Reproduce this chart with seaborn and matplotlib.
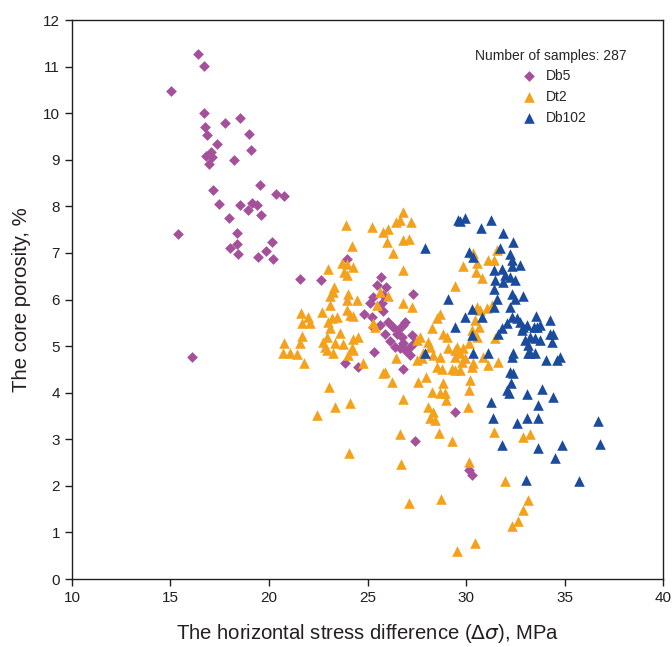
import pandas as pd
import matplotlib
matplotlib.use("Agg")
import matplotlib.pyplot as plt
import seaborn as sns

# Core porosity vs horizontal stress difference, three wells
db5_x = [16.38, 16.70, 15.03, 16.70, 17.78, 18.53, 16.75, 16.84, 18.98, 17.38,
         19.09, 17.06, 16.80, 17.09, 16.95, 18.21, 19.54, 17.17, 20.37, 20.75,
         17.45, 18.53, 19.15, 19.37, 18.92, 19.61, 17.95, 15.36, 18.39, 20.14,
         18.36, 18.00, 19.87, 18.43, 19.43, 20.22, 21.59, 16.09, 22.62, 23.94,
         23.86, 24.53, 25.67, 25.50, 25.94, 25.77, 25.29, 25.13, 25.72, 25.80,
         27.29, 24.82, 25.21, 25.29, 25.64, 26.06, 26.31, 26.56, 26.82, 26.90,
         25.89, 26.14, 26.48, 26.74, 27.24, 26.40, 26.65, 26.90, 27.16, 26.82,
         27.16, 27.41, 25.33, 26.79, 29.41, 27.41, 30.12, 30.29]
db5_y = [11.28, 11.02, 10.48, 10.01, 9.80, 9.89, 9.70, 9.53, 9.55, 9.35,
         9.20, 9.17, 9.09, 9.07, 8.92, 9.00, 8.45, 8.36, 8.27, 8.22,
         8.05, 8.04, 8.07, 8.02, 7.92, 7.81, 7.76, 7.41, 7.42, 7.24,
         7.19, 7.10, 7.05, 6.98, 6.92, 6.86, 6.45, 4.77, 6.41, 6.88,
         4.64, 4.56, 6.49, 6.31, 6.26, 6.10, 6.06, 5.92, 5.92, 5.76,
         6.13, 5.69, 5.63, 5.42, 5.45, 5.52, 5.42, 5.35, 5.45, 5.52,
         5.25, 5.12, 5.27, 5.20, 5.24, 4.99, 4.95, 4.92, 4.99, 5.06,
         4.81, 5.09, 4.87, 4.50, 3.58, 2.97, 2.34, 2.23]

dt2_x = [23.91, 24.23, 23.01, 23.69, 23.94, 24.28, 23.81, 23.98, 23.30, 23.27,
         23.10, 24.03, 24.45, 23.94, 23.10, 22.67, 21.61, 22.00, 21.66, 22.08,
         23.94, 24.28, 24.11, 23.18, 23.44, 23.01, 23.10, 23.60, 22.93, 21.66,
         21.57, 20.78, 22.76, 23.35, 23.77, 24.28, 24.53, 20.69, 21.07, 21.40,
         22.84, 22.93, 23.23, 24.20, 24.03, 24.28, 21.78, 23.06, 24.11, 23.35,
         22.45, 24.08,
         25.21, 26.82, 26.45, 26.65, 27.21, 25.80, 26.06, 25.98, 26.82, 27.12,
         26.31, 26.82, 29.41, 25.64, 26.06, 25.47, 25.29, 25.38, 26.82, 27.24,
         24.79, 25.77, 25.89, 26.23, 26.45, 26.79, 26.65, 26.70, 27.55, 27.97,
         27.50, 27.66, 28.09, 27.83, 28.17, 28.34, 28.68, 28.51, 27.50, 27.75,
         28.26, 28.51, 28.68, 28.85, 29.02, 29.10, 29.44, 29.27, 29.44, 28.26,
         28.68, 28.98, 28.09, 28.34, 28.17, 28.43, 28.64, 29.27,
         30.37, 30.54, 30.51, 30.80, 29.86, 31.13, 31.39, 31.56, 30.54, 30.71,
         31.05, 31.30, 30.46, 30.63, 30.29, 30.54, 31.47, 30.12, 29.86, 29.53,
         29.70, 29.44, 29.95, 29.78, 30.37, 30.29, 30.88, 31.13, 31.64, 29.70,
         28.77, 30.20, 30.12, 28.85, 28.93, 30.07, 31.39, 32.88, 33.25, 30.12,
         31.98, 27.12, 28.71, 33.16, 32.88, 32.62, 32.34, 30.47, 29.53]
dt2_y = [7.60, 7.15, 6.66, 6.79, 6.76, 6.69, 6.60, 6.53, 6.28, 6.17,
         6.08, 6.13, 5.99, 5.99, 5.88, 5.74, 5.72, 5.63, 5.50, 5.50,
         5.77, 5.65, 5.67, 5.60, 5.62, 5.52, 5.40, 5.29, 5.20, 5.22,
         5.06, 5.06, 5.09, 5.06, 5.04, 5.15, 5.20, 4.86, 4.86, 4.83,
         4.99, 4.92, 4.85, 4.95, 4.81, 4.92, 4.63, 4.12, 3.77, 3.69,
         3.52, 2.71,
         7.55, 7.89, 7.67, 7.71, 7.66, 7.46, 7.51, 7.24, 7.28, 7.30,
         6.99, 6.63, 6.29, 6.17, 6.08, 5.88, 5.50, 5.42, 5.93, 5.85,
         4.63, 4.43, 4.45, 4.24, 4.74, 3.86, 3.11, 2.47, 4.24, 4.34,
         5.13, 5.20, 5.09, 4.85, 4.99, 4.81, 4.77, 4.56, 4.70, 4.74,
         5.38, 5.60, 5.70, 5.27, 5.20, 4.95, 4.92, 4.52, 4.49, 4.02,
         3.99, 3.84, 3.70, 3.59, 3.45, 3.41, 3.14, 2.97,
         6.99, 6.79, 6.60, 6.46, 6.71, 6.85, 6.85, 7.06, 5.85, 5.78,
         5.81, 5.88, 5.56, 5.42, 5.35, 5.20, 5.17, 5.06, 4.95, 4.99,
         4.85, 4.77, 4.74, 4.67, 4.63, 4.56, 4.77, 4.59, 4.67, 4.49,
         4.52, 4.27, 4.06, 4.20, 3.99, 3.69, 3.16, 3.04, 3.11, 2.52,
         2.10, 1.63, 1.71, 1.70, 1.48, 1.25, 1.14, 0.77, 0.61]

db102_x = [27.89, 29.10, 29.41, 27.92, 29.61, 29.70, 29.95, 31.25, 30.75, 31.86,
           32.37, 30.12, 30.37, 31.73, 32.23, 32.32, 32.74, 31.39, 31.81, 32.32,
           31.98, 32.23, 32.49, 31.47, 31.39, 31.89, 32.32, 32.49, 32.88, 31.56,
           30.29, 31.39, 32.23, 29.95, 30.80, 32.32, 32.57, 32.74, 33.55, 34.26,
           32.06, 31.81, 31.64, 32.88, 33.08, 32.82, 33.42, 33.59, 33.76, 34.26,
           34.43, 32.99, 33.25, 33.50, 33.76, 34.35, 33.16, 33.25, 33.50, 33.12,
           30.29, 30.37, 31.13, 32.37, 32.32, 34.06, 34.60, 34.77, 32.23, 32.40,
           32.27, 32.06, 32.15, 33.08, 33.87, 34.43, 31.27, 31.36, 32.57, 33.08,
           33.62, 33.62, 31.81, 33.62, 34.52, 34.86, 36.67, 36.80, 35.75, 33.05]
db102_y = [7.10, 6.02, 5.42, 4.86, 7.71, 7.69, 7.76, 7.71, 7.54, 7.42,
           7.23, 7.03, 6.92, 7.11, 6.97, 6.85, 6.74, 6.63, 6.65, 6.71,
           6.53, 6.48, 6.42, 6.42, 6.22, 6.38, 6.13, 6.02, 6.08, 6.02,
           5.79, 5.83, 5.83, 5.63, 5.63, 5.63, 5.60, 5.52, 5.65, 5.56,
           5.49, 5.38, 5.27, 5.42, 5.45, 5.35, 5.42, 5.42, 5.45, 5.26,
           5.27, 5.13, 5.20, 5.17, 5.13, 5.09, 5.02, 4.85, 4.85, 4.85,
           5.24, 4.86, 4.86, 4.85, 4.77, 4.70, 4.70, 4.77, 4.45, 4.42,
           4.20, 4.06, 3.99, 3.97, 4.09, 3.90, 3.81, 3.46, 3.36, 3.45,
           3.45, 3.74, 2.88, 2.81, 2.59, 2.88, 3.40, 2.91, 2.11, 2.12]

x_ticks = [10, 15, 20, 25, 30, 35, 40]
y_ticks = list(range(0, 13))

db5 = pd.DataFrame({"dsigma": db5_x, "porosity": db5_y})
dt2 = pd.DataFrame({"dsigma": dt2_x, "porosity": dt2_y})
db102 = pd.DataFrame({"dsigma": db102_x, "porosity": db102_y})

sns.set_style("ticks")
plt.rcParams["font.family"] = ["Liberation Sans", "DejaVu Sans"]
plt.rcParams["axes.edgecolor"] = "#231f20"
plt.rcParams["xtick.color"] = "#231f20"
plt.rcParams["ytick.color"] = "#231f20"

fig = plt.figure(figsize=(6.72, 6.47), dpi=100)
ax = fig.add_axes([0.107, 0.105, 0.88, 0.864])

sns.scatterplot(data=db5, x="dsigma", y="porosity", marker="D", s=30,
                color="#a4509b", linewidth=0, label="Db5", ax=ax)
sns.scatterplot(data=dt2, x="dsigma", y="porosity", marker="^", s=58,
                color="#f4a11c", linewidth=0, label="Dt2", ax=ax)
sns.scatterplot(data=db102, x="dsigma", y="porosity", marker="^", s=58,
                color="#1b4b9d", linewidth=0, label="Db102", ax=ax)

ax.set_xlim(10, 40)
ax.set_ylim(0, 12)
ax.set_xticks(x_ticks)
ax.set_yticks(y_ticks)
ax.tick_params(axis="both", direction="out", length=5, width=1,
               labelsize=11, top=False, right=False)
for sp in ax.spines.values():
    sp.set_visible(True)
    sp.set_linewidth(1)

ax.set_xlabel(r"The horizontal stress difference ($\Delta\sigma$), MPa",
              fontsize=14.6, color="#231f20", labelpad=12)
ax.set_ylabel("The core porosity, %", fontsize=14.6, color="#231f20",
              labelpad=9)

leg = ax.legend(title="Number of samples: 287", loc="upper right",
                bbox_to_anchor=(0.96, 0.97), frameon=False, fontsize=10,
                title_fontsize=10, handletextpad=0.2, labelspacing=0.5,
                markerscale=1.0)
leg._legend_box.sep = 4

plt.savefig("out.png", dpi=100)
